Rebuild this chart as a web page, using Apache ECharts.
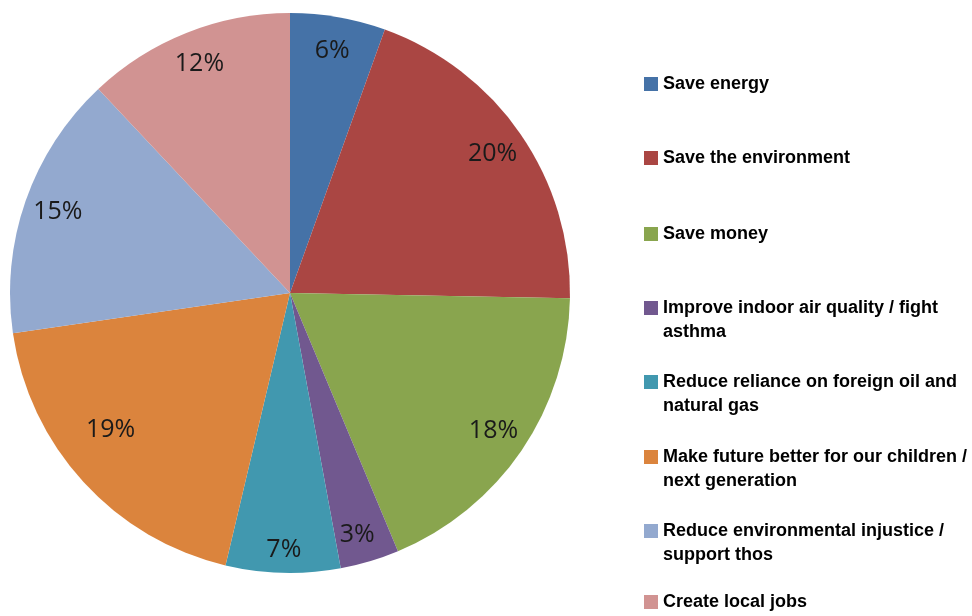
<!DOCTYPE html>
<html>
<head>
<meta charset="utf-8">
<script src="https://cdn.jsdelivr.net/npm/echarts@6/dist/echarts.min.js"></script>
<style>
html,body{margin:0;padding:0;background:#fff;}
#chart{width:972px;height:616px;}
</style>
</head>
<body>
<div id="chart"></div>
<script>
// Data
const categories = [
  "Save energy",
  "Save the environment",
  "Save money",
  "Improve indoor air quality / fight\nasthma",
  "Reduce reliance on foreign oil and\nnatural gas",
  "Make future better for our children /\nnext generation",
  "Reduce environmental injustice /\nsupport thos",
  "Create local jobs"
];
const shares = [5.5, 19.8, 18.4, 3.4, 6.6, 19.0, 15.3, 12.0];
const colors = ["#4572A7", "#AA4643", "#89A54E", "#71588F", "#4198AF", "#DB843D", "#93A9CF", "#D19392"];

const pieData = categories.map((n, i) => ({ name: n, value: shares[i], itemStyle: { color: colors[i] } }));

// small nudges of individual percentage labels (layout only)
const labelNudge = [null, null, null, [-3, 6], [0, 11], [2, -29], null, null];

// legend layout (first-line centre y of each entry)
const legendCenters = [84, 158, 234, 308, 382, 457, 531, 602];
const ICON = 14, LH = 24;
const legends = categories.map((n, i) => {
  const twoLine = n.indexOf("\n") >= 0;
  const lines = twoLine ? 3 : 1;
  return {
    data: [n],
    orient: 'vertical',
    left: 644,
    top: legendCenters[i] - lines * LH / 2,
    itemWidth: ICON,
    itemHeight: ICON,
    padding: 0,
    selectedMode: false,
    icon: 'rect',
    formatter: function (name) { return twoLine ? '\n' + name : name; },
    textStyle: {
      fontFamily: '"Liberation Sans", Arial, sans-serif',
      fontWeight: 'bold',
      fontSize: 18,
      lineHeight: LH,
      color: '#000'
    }
  };
});

const chart = echarts.init(document.getElementById('chart'), null, { renderer: 'canvas' });
chart.setOption({
  backgroundColor: '#ffffff',
  animation: false,
  legend: legends,
  series: [
    {
      type: 'pie',
      center: [290, 293],
      radius: [0, 280],
      startAngle: 90,
      clockwise: true,
      percentPrecision: 0,
      silent: true,
      label: { show: false },
      labelLine: { show: false },
      itemStyle: { borderWidth: 0 },
      data: pieData
    },
    {
      type: 'pie',
      center: [290, 293],
      radius: [206, 280],
      startAngle: 90,
      clockwise: true,
      percentPrecision: 0,
      silent: true,
      emphasis: { disabled: true },
      itemStyle: { color: 'rgba(0,0,0,0)', borderWidth: 0 },
      label: {
        show: true,
        position: 'inside',
        formatter: '{d}%',
        fontFamily: '"Open Sans", Lato, sans-serif',
        fontSize: 25,
        color: '#1a1a1a'
      },
      labelLine: { show: false },
      data: categories.map((n, i) => {
        const d = { name: n, value: shares[i] };
        if (labelNudge[i]) d.label = { offset: labelNudge[i] };
        return d;
      })
    }
  ]
});
</script>
</body>
</html>
